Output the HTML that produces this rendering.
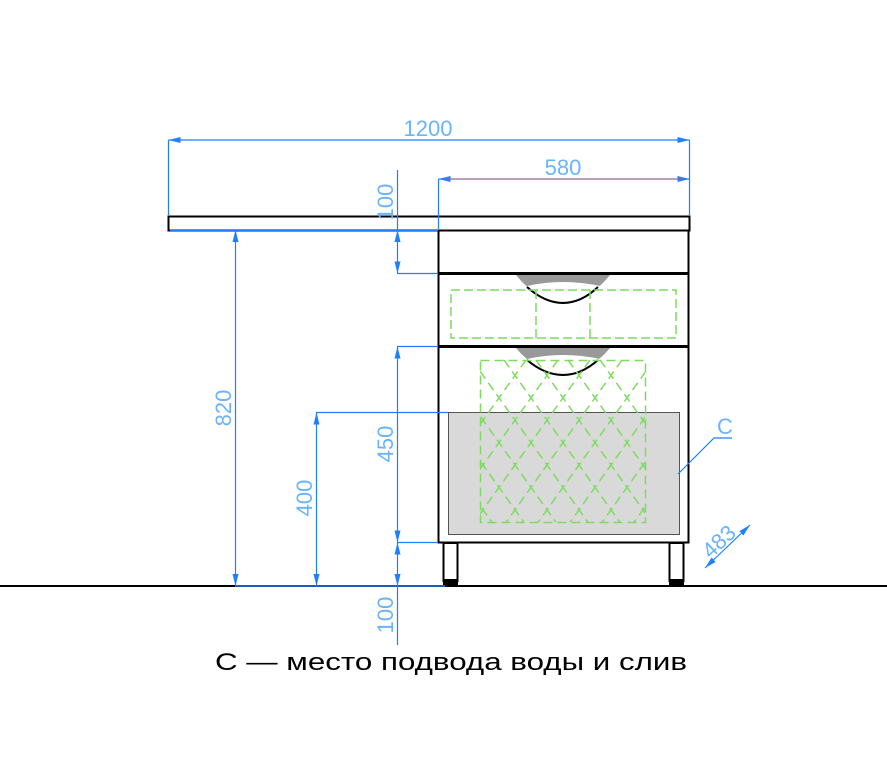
<!DOCTYPE html>
<html><head><meta charset="utf-8"><style>
html,body{margin:0;padding:0;background:#fff;}
svg{display:block;}
text{font-family:"Liberation Sans","DejaVu Sans",sans-serif;}
</style></head><body>
<svg width="887" height="768" viewBox="0 0 887 768" xmlns="http://www.w3.org/2000/svg">
<defs>
<marker id="a" viewBox="0 0 12 6" refX="12" refY="3" markerWidth="12" markerHeight="6" orient="auto" markerUnits="userSpaceOnUse">
<path d="M0,0 L12,3 L0,6 z" fill="#1e7fff"/></marker>
<marker id="b" viewBox="0 0 12 6" refX="0" refY="3" markerWidth="12" markerHeight="6" orient="auto" markerUnits="userSpaceOnUse">
<path d="M12,0 L0,3 L12,6 z" fill="#1e7fff"/></marker>
<clipPath id="hc"><rect x="480" y="360" width="165" height="162"/></clipPath>
</defs>

<!-- ground -->
<line x1="0" y1="586" x2="887" y2="586" stroke="#000" stroke-width="2"/>

<!-- countertop -->
<rect x="168.5" y="216.5" width="521" height="14" fill="#fff" stroke="#000" stroke-width="2"/>

<!-- cabinet body -->
<rect x="438.5" y="230.5" width="250" height="312" fill="#fff" stroke="#000" stroke-width="2"/>
<line x1="438" y1="273.5" x2="689" y2="273.5" stroke="#000" stroke-width="3"/>
<line x1="438" y1="346.5" x2="689" y2="346.5" stroke="#000" stroke-width="3"/>

<!-- gray zone -->
<rect x="448.5" y="412.5" width="231" height="122" fill="#d9d9d9" stroke="#555" stroke-width="1"/>

<!-- handles -->
<path d="M516,275 L610,275 Q590,300 563,303 Q536,300 516,275 z" fill="#999"/>
<path d="M527,286 Q563,278 600,286 Q585,300 563,302 Q540,300 527,286 z" fill="#fff"/>
<path d="M527,287 Q545,303 563,303 Q581,303 598,287" fill="none" stroke="#000" stroke-width="2"/>
<path d="M516,348 L610,348 Q590,372 563,375 Q536,372 516,348 z" fill="#999"/>
<path d="M527,359 Q563,351 600,359 Q585,373 563,374 Q540,373 527,359 z" fill="#fff"/>
<path d="M527,360 Q545,375 563,375 Q581,375 598,360" fill="none" stroke="#000" stroke-width="2"/>

<!-- top drawer green dashed -->
<g fill="none" stroke="#7ddc5f" stroke-width="1.5" stroke-dasharray="9,4">
<rect x="451" y="290" width="225" height="48"/>
<line x1="536" y1="290" x2="536" y2="338"/>
<line x1="590" y1="290" x2="590" y2="338"/>
</g>

<!-- diamond hatch -->
<g fill="none" stroke="#7ddc5f" stroke-width="1.5" stroke-dasharray="9,5">
<rect x="480.5" y="360.5" width="165" height="162"/>
<g clip-path="url(#hc)">
<path d="M440,360 l200,280 M472,360 l200,280 M504,360 l200,280 M536,360 l200,280 M568,360 l200,280 M600,360 l200,280 M408,360 l200,280 M376,360 l200,280 M344,360 l200,280 M312,360 l200,280 M280,360 l200,280 M248,360 l200,280"/>
<path d="M686,360 l-200,280 M654,360 l-200,280 M622,360 l-200,280 M590,360 l-200,280 M558,360 l-200,280 M526,360 l-200,280 M718,360 l-200,280 M750,360 l-200,280 M782,360 l-200,280 M814,360 l-200,280 M846,360 l-200,280 M878,360 l-200,280"/>
</g></g>

<!-- legs -->
<rect x="443.5" y="543" width="14" height="38" fill="#fff" stroke="#000" stroke-width="2"/>
<rect x="669.5" y="543" width="14" height="38" fill="#fff" stroke="#000" stroke-width="2"/>
<rect x="443" y="579" width="15" height="6" fill="#000"/>
<rect x="669" y="579" width="15" height="6" fill="#000"/>

<!-- dimensions -->
<g stroke="#1e7fff" stroke-width="1.2" fill="none">
<line x1="168.5" y1="140" x2="168.5" y2="216"/>
<line x1="689.5" y1="140" x2="689.5" y2="216"/>
<line x1="168.5" y1="140" x2="689.5" y2="140" marker-start="url(#b)" marker-end="url(#a)"/>
<line x1="438.5" y1="179" x2="438.5" y2="230"/>
<line x1="438.5" y1="179" x2="689.5" y2="179" marker-start="url(#b)" marker-end="url(#a)"/>
<line x1="170" y1="230.5" x2="438" y2="230.5"/>
<line x1="235.5" y1="230" x2="235.5" y2="586" marker-start="url(#b)" marker-end="url(#a)"/>
<line x1="397.5" y1="170" x2="397.5" y2="230"/>
<line x1="397.5" y1="230" x2="397.5" y2="273.5" marker-start="url(#b)" marker-end="url(#a)"/>
<line x1="397" y1="273.5" x2="438" y2="273.5"/>
<line x1="397" y1="346.5" x2="438" y2="346.5"/>
<line x1="397.5" y1="346.5" x2="397.5" y2="542.5" marker-start="url(#b)" marker-end="url(#a)"/>
<line x1="397" y1="542.5" x2="438" y2="542.5"/>
<line x1="397.5" y1="542.5" x2="397.5" y2="586" marker-start="url(#b)" marker-end="url(#a)"/>
<line x1="397.5" y1="586" x2="397.5" y2="645"/>
<line x1="316" y1="412.5" x2="448" y2="412.5"/>
<line x1="316.5" y1="412.5" x2="316.5" y2="586" marker-start="url(#b)" marker-end="url(#a)"/>
<line x1="235" y1="586" x2="445" y2="586" stroke-width="1.5"/>
<polyline points="678,474 714,438 732,438"/>
<line x1="705" y1="568" x2="750" y2="525" marker-start="url(#b)" marker-end="url(#a)"/>
</g>
<line x1="445" y1="179" x2="683" y2="179" stroke="#e05050" stroke-width="0.8"/>

<g fill="#6ab4ff" font-size="22">
<text x="428" y="136" text-anchor="middle">1200</text>
<text x="563" y="175" text-anchor="middle">580</text>
<text transform="translate(393,202) rotate(-90)" text-anchor="middle">100</text>
<text transform="translate(231,408) rotate(-90)" text-anchor="middle">820</text>
<text transform="translate(393,444) rotate(-90)" text-anchor="middle">450</text>
<text transform="translate(312,498) rotate(-90)" text-anchor="middle">400</text>
<text transform="translate(393,615) rotate(-90)" text-anchor="middle">100</text>
<text x="725" y="434" text-anchor="middle">C</text>
<text transform="translate(724,547) rotate(-43)" text-anchor="middle">483</text>
</g>

<text x="215" y="670" font-size="24" fill="#000" textLength="472" lengthAdjust="spacingAndGlyphs">C —  место подвода воды и слив</text>
</svg>
</body></html>
